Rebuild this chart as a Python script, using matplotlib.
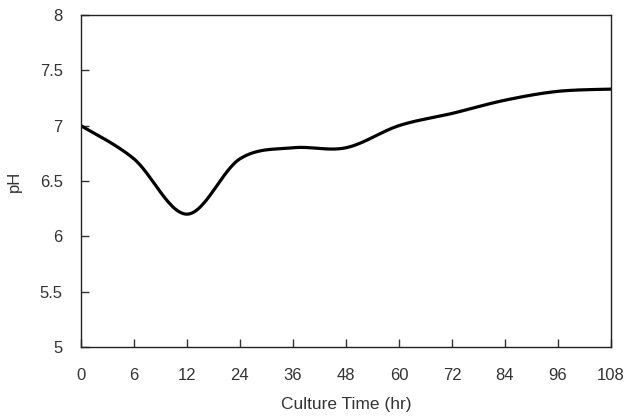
import matplotlib
matplotlib.use("Agg")
import matplotlib.pyplot as plt
import numpy as np

plt.rcParams['font.family'] = ['Liberation Sans', 'DejaVu Sans']

# culture time labels (category axis, evenly spaced)
horas = ['0', '6', '12', '24', '36', '48', '60', '72', '84', '96', '108']
ph = [7.0, 6.70, 6.20, 6.70, 6.80, 6.80, 7.00, 7.11, 7.23, 7.31, 7.33]

x = np.arange(len(horas), dtype=float)
y = np.array(ph)

# smoothed line like a spreadsheet chart (cubic bezier, catmull-rom tangents)
px = np.concatenate(([x[0]], x, [x[-1]]))
py = np.concatenate(([y[0]], y, [y[-1]]))
sx, sy = [], []
t = np.linspace(0, 1, 30)
for i in range(1, len(px) - 2):
    p0 = np.array([px[i], py[i]])
    p3 = np.array([px[i + 1], py[i + 1]])
    c1 = p0 + (np.array([px[i + 1], py[i + 1]]) - np.array([px[i - 1], py[i - 1]])) / 6
    c2 = p3 - (np.array([px[i + 2], py[i + 2]]) - p0) / 6
    b = ((1 - t) ** 3)[:, None] * p0 + (3 * (1 - t) ** 2 * t)[:, None] * c1 \
        + (3 * (1 - t) * t ** 2)[:, None] * c2 + (t ** 3)[:, None] * p3
    sx.extend(b[:, 0])
    sy.extend(b[:, 1])

fig = plt.figure(figsize=(6.27, 4.16), dpi=100)
ax = fig.add_axes([0.129, 0.166, 0.8455, 0.798])
ax.plot(sx, sy, color='black', lw=2.3, solid_capstyle='round')

ax.set_xlim(0, len(horas) - 1)
ax.set_ylim(5, 8)
ax.set_xticks(x)
ax.set_xticklabels(horas)
ax.set_yticks([5, 5.5, 6, 6.5, 7, 7.5, 8])
ax.set_yticklabels(['5', '5.5', '6', '6.5', '7', '7.5', '8'])
ax.tick_params(direction='in', length=6, width=1, labelsize=12, colors='#333333')
ax.tick_params(axis='x', pad=15)
ax.tick_params(axis='y', pad=13)
for s in ax.spines.values():
    s.set_linewidth(1)
    s.set_color('#222222')

ax.set_xlabel('Culture Time (hr)', fontsize=12.5, color='#333333', labelpad=10)
ax.set_ylabel('pH', fontsize=12, color='#333333', labelpad=13)

fig.savefig('out.png', dpi=100)
